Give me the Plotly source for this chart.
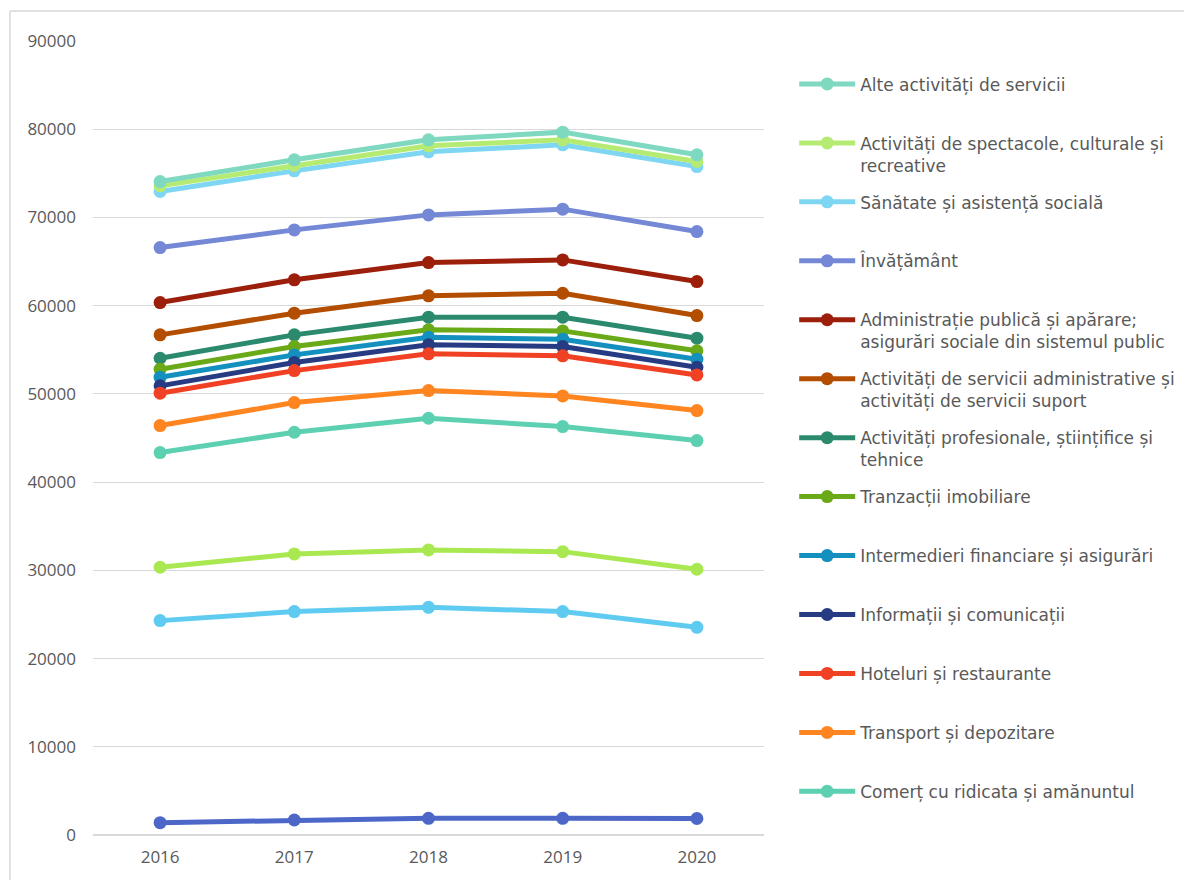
import plotly.graph_objects as go

years = [2016, 2017, 2018, 2019, 2020]

alte = [74070, 76530, 78800, 79670, 77100]
spectacole = [73580, 75890, 78120, 78800, 76340]
sanatate = [72940, 75280, 77440, 78230, 75770]
invatamant = [66590, 68590, 70290, 70940, 68400]
administratie = [60350, 62930, 64890, 65190, 62730]
serv_admin = [56690, 59150, 61110, 61410, 58880]
profesionale = [54040, 56690, 58690, 58690, 56310]
tranzactii = [52800, 55370, 57260, 57140, 54880]
intermedieri = [51890, 54420, 56420, 56200, 53930]
informatii = [50910, 53550, 55560, 55370, 53020]
hoteluri = [50080, 52640, 54540, 54310, 52150]
transport = [46410, 49020, 50380, 49770, 48110]
comert = [43350, 45650, 47240, 46300, 44710]
serie_30k = [30350, 31860, 32310, 32120, 30120]
serie_24k = [24300, 25320, 25810, 25320, 23540]
serie_1k = [1400, 1700, 1890, 1890, 1870]

y_ticks = [0, 10000, 20000, 30000, 40000, 50000, 60000, 70000, 80000, 90000]

# (name, values, color, legend rank or None) in drawing order
series = [
    ("Serie 1", serie_1k, "#4d67c9", None),
    ("Serie 2", serie_24k, "#5fcbf0", None),
    ("Serie 3", serie_30k, "#aae852", None),
    ("Comerț cu ridicata și amănuntul", comert, "#5dd0b2", 13),
    ("Transport și depozitare", transport, "#ff8521", 12),
    ("Activități profesionale, științifice și<br>tehnice", profesionale, "#2b8a6e", 7),
    ("Activități de servicii administrative și<br>activități de servicii suport", serv_admin, "#b34d00", 6),
    ("Administrație publică și apărare;<br>asigurări sociale din sistemul public", administratie, "#9c1f0b", 5),
    ("Învățământ", invatamant, "#7488d6", 4),
    ("Tranzacții imobiliare", tranzactii, "#6aaa19", 8),
    ("Intermedieri financiare și asigurări", intermedieri, "#1390bd", 9),
    ("Informații și comunicații", informatii, "#263b82", 10),
    ("Hoteluri și restaurante", hoteluri, "#f04124", 11),
    ("Sănătate și asistență socială", sanatate, "#7fd6f2", 3),
    ("Activități de spectacole, culturale și<br>recreative", spectacole, "#b5eb73", 2),
    ("Alte activități de servicii", alte, "#7fd8c0", 1),
]

fig = go.Figure()
for name, vals, color, rank in series:
    show = rank is not None
    legend_name = name if "<br>" in name else name + "<br> "
    fig.add_trace(go.Scatter(
        x=years, y=vals, mode="lines+markers",
        name=legend_name,
        line=dict(color=color, width=5),
        marker=dict(color=color, size=13),
        showlegend=show,
        legendrank=rank if show else 1000,
        legendgroup=name,
    ))

L, T, PW, PH = 85, 33, 671, 794

fig.update_layout(
    width=1192, height=880,
    margin=dict(l=L, r=1192 - L - PW, t=T, b=880 - T - PH),
    paper_bgcolor="white", plot_bgcolor="white",
    font=dict(family="Open Sans", size=17, color="#595959"),
    showlegend=True,
    legend=dict(
        x=1.045, y=0.968, xanchor="left", yanchor="top",
        font=dict(family="DejaVu Sans", size=17, color="#595959"),
        valign="top", tracegroupgap=11.75, itemwidth=56,
        traceorder="grouped",
    ),
    xaxis=dict(
        range=[2015.5, 2020.5], tickvals=years, ticktext=[str(y) for y in years],
        showgrid=False, zeroline=False, showline=False, ticks="",
        tickfont=dict(family="Open Sans", size=17, color="#595959"),
        ticklabelstandoff=10,
    ),
    yaxis=dict(
        range=[0, 90000], tickvals=y_ticks, ticktext=[str(v) for v in y_ticks],
        showgrid=True, gridcolor="#d9d9d9", gridwidth=1,
        zeroline=True, zerolinecolor="#d9d9d9", zerolinewidth=1.5,
        showline=False, ticks="",
        tickfont=dict(family="Open Sans", size=17, color="#595959"),
        ticklabelstandoff=16,
    ),
    shapes=[
        dict(type="line", xref="paper", yref="paper",
             x0=(10 - 93) / 671, x1=(1200 - 93) / 671,
             y0=(835 - 11) / 794, y1=(835 - 11) / 794,
             line=dict(color="#d9d9d9", width=1.5)),
        dict(type="line", xref="paper", yref="paper",
             x0=(10 - 93) / 671, x1=(10 - 93) / 671,
             y0=(835 - 11) / 794, y1=(835 - 890) / 794,
             line=dict(color="#d9d9d9", width=1.5)),
    ],
)

fig.write_html("out.html")
